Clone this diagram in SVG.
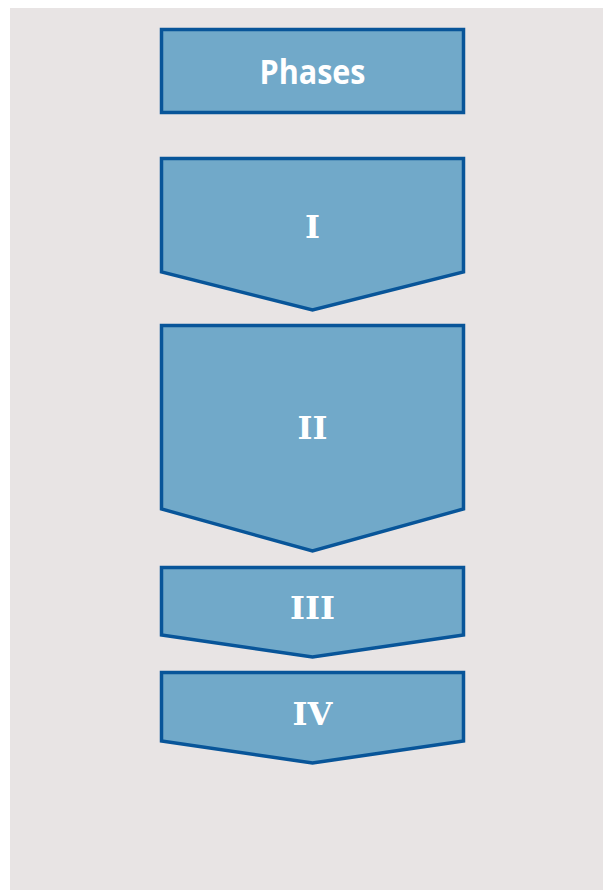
<svg xmlns="http://www.w3.org/2000/svg" width="603" height="891" viewBox="0 0 603 891">
<style>
.shape{fill:#71A9C9;stroke:#085599;stroke-width:3.5;stroke-linejoin:miter}
.lbl{fill:#FFFFFF;font-weight:bold;text-anchor:middle}
.sans{font-family:"Open Sans","Liberation Sans",sans-serif;font-size:34px}
.num{font-family:"DejaVu Serif","Liberation Serif",serif;font-size:32px}
</style>
<rect x="10" y="8" width="593" height="882" fill="#E8E4E4"/>
<g id="phases">
<rect class="shape" x="161.5" y="29.5" width="302" height="83"/>
<text class="lbl sans" x="312.5" y="83.5" textLength="106" lengthAdjust="spacingAndGlyphs">Phases</text>
</g>
<g id="phase-I">
<polygon class="shape" points="161.5,158.5 463.5,158.5 463.5,272 312.5,310 161.5,272"/>
<text class="lbl num" x="312.5" y="238">I</text>
</g>
<g id="phase-II">
<polygon class="shape" points="161.5,325.5 463.5,325.5 463.5,509 312.5,551 161.5,509"/>
<text class="lbl num" x="312.5" y="439">II</text>
</g>
<g id="phase-III">
<polygon class="shape" points="161.5,567.5 463.5,567.5 463.5,635 312.5,657 161.5,635"/>
<text class="lbl num" x="312.5" y="619">III</text>
</g>
<g id="phase-IV">
<polygon class="shape" points="161.5,672.5 463.5,672.5 463.5,741 312.5,763 161.5,741"/>
<text class="lbl num" x="312.5" y="725">IV</text>
</g>
<g id="connectors"></g>
</svg>
